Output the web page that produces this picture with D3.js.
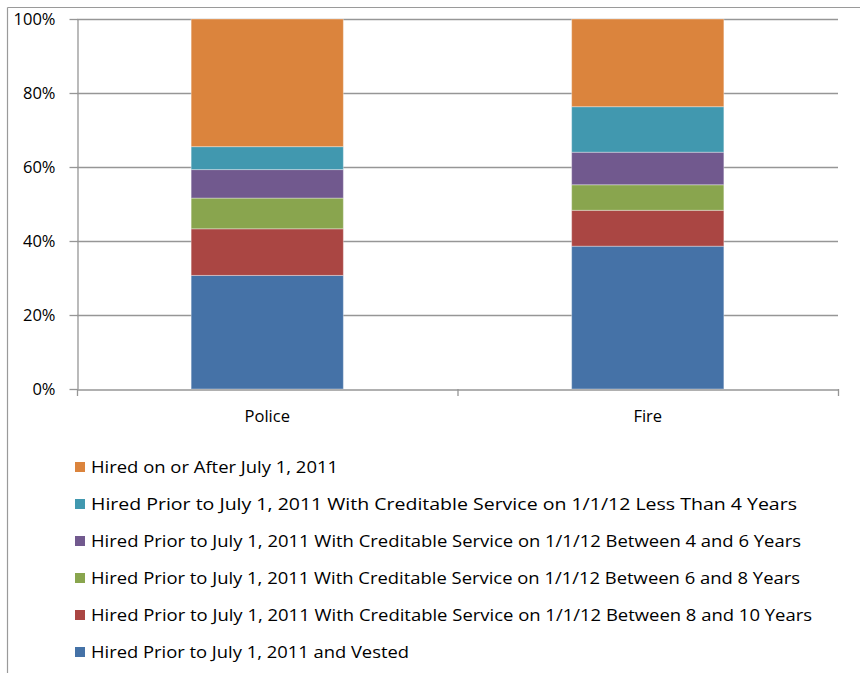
<!DOCTYPE html>
<html>
<head>
<meta charset="utf-8">
<script src="https://cdn.jsdelivr.net/npm/d3@7"></script>
<style>
  html, body { margin: 0; padding: 0; background: #fff; }
  svg { display: block; font-family: "Open Sans", "Liberation Sans", sans-serif; }
</style>
</head>
<body>
<svg id="chart" width="860" height="673"></svg>
<script>
// Categories along the x axis
const categories = ["Police", "Fire"];

// Series in stacking order (bottom to top), shares in percent
const seriesNames = [
  "Hired Prior to July 1, 2011 and Vested",
  "Hired Prior to July 1, 2011 With Creditable Service on 1/1/12 Between 8 and 10 Years",
  "Hired Prior to July 1, 2011 With Creditable Service on 1/1/12 Between 6 and 8 Years",
  "Hired Prior to July 1, 2011 With Creditable Service on 1/1/12 Between 4 and 6 Years",
  "Hired Prior to July 1, 2011 With Creditable Service on 1/1/12 Less Than 4 Years",
  "Hired on or After July 1, 2011"
];
const policeValues = [30.7, 12.6, 8.3, 7.7, 6.2, 34.5];
const fireValues   = [38.6, 9.7, 6.9, 8.8, 12.3, 23.7];
const seriesColors = ["#4572A7", "#AA4643", "#89A54E", "#71598E", "#4198AF", "#DB843D"];
const yTicks = [0, 20, 40, 60, 80, 100];

const svg = d3.select("#chart");

// frame lines of the chart area
svg.append("line").attr("x1", 7.5).attr("y1", 7.5).attr("x2", 860).attr("y2", 7.5)
  .attr("stroke", "#9a9a9a").attr("stroke-width", 1.2);
svg.append("line").attr("x1", 7.5).attr("y1", 7.5).attr("x2", 7.5).attr("y2", 673)
  .attr("stroke", "#9a9a9a").attr("stroke-width", 1.2);

const plot = { left: 77, right: 838, top: 19, bottom: 389 };

const x = d3.scaleBand().domain(categories).range([plot.left, plot.right]).paddingInner(0.6).paddingOuter(0.3);
const y = d3.scaleLinear().domain([0, 100]).range([plot.bottom, plot.top]);

// gridlines
svg.append("g").selectAll("line").data(yTicks.filter(d => d > 0)).join("line")
  .attr("x1", plot.left).attr("x2", plot.right)
  .attr("y1", d => y(d) + 0.5).attr("y2", d => y(d) + 0.5)
  .attr("stroke", "#969696").attr("stroke-width", 1.3);

// stacked data
const rows = categories.map((c, i) => {
  const vals = i === 0 ? policeValues : fireValues;
  const row = { category: c };
  seriesNames.forEach((s, j) => row[s] = vals[j]);
  return row;
});
const stacked = d3.stack().keys(seriesNames)(rows);

svg.append("g").selectAll("g").data(stacked).join("g")
  .attr("fill", (d, i) => seriesColors[i])
  .selectAll("rect").data(d => d).join("rect")
  .attr("x", d => x(d.data.category))
  .attr("width", x.bandwidth())
  .attr("y", d => y(d[1]))
  .attr("height", d => y(d[0]) - y(d[1]))
  .attr("stroke", "rgba(255,255,255,0.35)")
  .attr("stroke-width", 1);

// y axis
const yAxis = svg.append("g").attr("transform", `translate(${plot.left + 0.5},0)`)
  .call(d3.axisLeft(y).tickValues(yTicks).tickFormat(d => d + "%").tickSize(8).tickSizeOuter(0));
yAxis.select(".domain").attr("stroke", "#969696").attr("stroke-width", 1.3);
yAxis.selectAll(".tick line").attr("stroke", "#969696").attr("stroke-width", 1.3);
yAxis.selectAll(".tick text").attr("x", -22).attr("font-size", 16.5)
  .attr("fill", "#000").attr("font-family", "Open Sans, sans-serif");

// x axis
const xAxis = svg.append("g").attr("transform", `translate(0,${plot.bottom + 0.5})`)
  .call(d3.axisBottom(x).tickSize(0).tickSizeOuter(0));
xAxis.select(".domain").attr("stroke", "#969696").attr("stroke-width", 1.3);
xAxis.selectAll(".tick text").attr("dy", 0).attr("y", 32).attr("font-size", 16.5)
  .attr("fill", "#000").attr("font-family", "Open Sans, sans-serif");
// category separator ticks
const sepX = [plot.left, (x("Police") + x.bandwidth() + x("Fire")) / 2, plot.right];
svg.append("g").selectAll("line").data(sepX).join("line")
  .attr("x1", d => d + 0.5).attr("x2", d => d + 0.5)
  .attr("y1", plot.bottom).attr("y2", plot.bottom + 7)
  .attr("stroke", "#969696").attr("stroke-width", 1.3);

// legend, top entry is the top of the stack
const legendOrder = seriesNames.map((s, i) => i).reverse();
const legendWidths = [247, 706, 710, 709, 721, 318];
const legend = svg.append("g");
legendOrder.forEach((si, row) => {
  const ly = 467 + row * 37;
  legend.append("rect").attr("x", 75).attr("y", ly - 5).attr("width", 10).attr("height", 10)
    .attr("fill", seriesColors[si]);
  legend.append("text").attr("x", 91).attr("y", ly).attr("dy", "0.35em")
    .attr("font-size", 16.5).attr("fill", "#000")
    .attr("textLength", legendWidths[row]).attr("lengthAdjust", "spacingAndGlyphs")
    .text(seriesNames[si]);
});
</script>
</body>
</html>
